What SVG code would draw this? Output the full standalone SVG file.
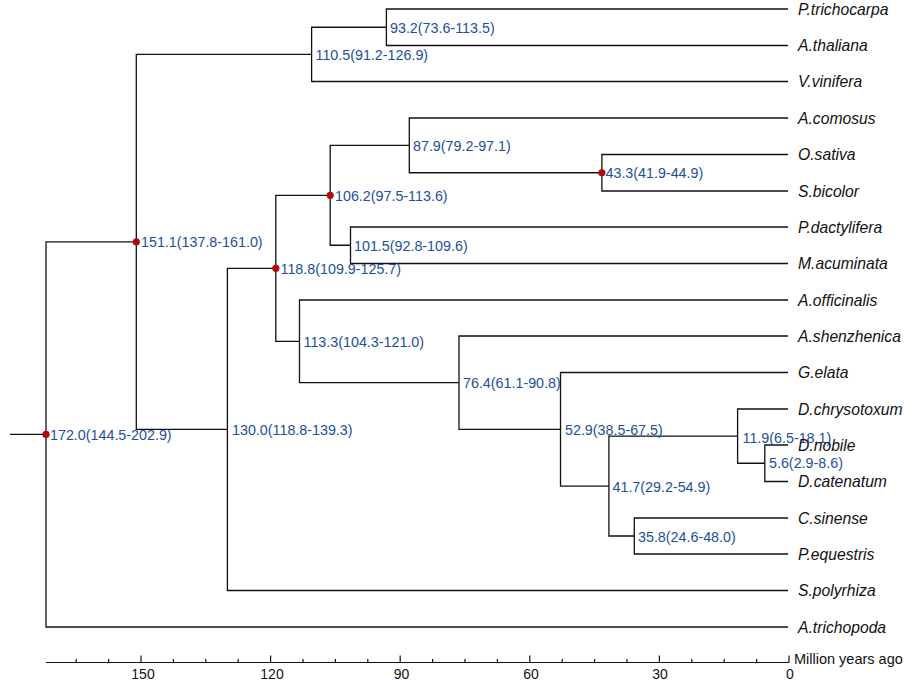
<svg xmlns="http://www.w3.org/2000/svg" width="913" height="681" viewBox="0 0 913 681">
<style>
.br{fill:none;stroke:#111;stroke-width:1.3}
.ax{fill:none;stroke:#111;stroke-width:1.2}
.nl{font-family:"Liberation Sans",Arial,sans-serif;font-size:14.3px;fill:#1d4f9b}
.lf{font-family:"Liberation Sans",Arial,sans-serif;font-size:15.7px;font-style:italic;fill:#111}
.tk{font-family:"Liberation Sans",Arial,sans-serif;font-size:14px;fill:#111;text-anchor:middle}
.dot{fill:#b00a0a}
</style>
<rect width="913" height="681" fill="#fff"/>
<g id="connectors">
<path class="br" d="M10 434.45 H46"/>
<path class="br" d="M136.3 241.9 H46 V627 H788"/>
<path class="br" d="M311.6 54.4 H136.3 V429.4 H227.4"/>
<path class="br" d="M386.4 27.25 H311.6 V81.5 H788"/>
<path class="br" d="M788 9 H386.4 V45.5 H788"/>
<path class="br" d="M275.8 268.3 H227.4 V590.5 H788"/>
<path class="br" d="M330.2 195.3 H275.8 V341.3 H299.5"/>
<path class="br" d="M409.3 145.4 H330.2 V245.25 H350.5"/>
<path class="br" d="M788 118 H409.3 V172.75 H601.9"/>
<path class="br" d="M788 154.5 H601.9 V191 H788"/>
<path class="br" d="M788 227 H350.5 V263.5 H788"/>
<path class="br" d="M788 300 H299.5 V382.65 H459"/>
<path class="br" d="M788 336 H459 V429.3 H560.5"/>
<path class="br" d="M788 372.5 H560.5 V486.05 H608.9"/>
<path class="br" d="M737.6 436.1 H608.9 V536 H634.3"/>
<path class="br" d="M788 409 H737.6 V463.25 H764.8"/>
<path class="br" d="M788 445 H764.8 V481.5 H788"/>
<path class="br" d="M788 518 H634.3 V554 H788"/>
</g>
<g id="node-172"><circle class="dot" cx="46" cy="434.45" r="3.6"/><text class="nl" x="50" y="439.5">172.0(144.5-202.9)</text></g>
<g id="node-151"><circle class="dot" cx="136.3" cy="241.9" r="3.6"/><text class="nl" x="141" y="247">151.1(137.8-161.0)</text></g>
<g id="node-110"><text class="nl" x="315.5" y="59.5">110.5(91.2-126.9)</text></g>
<g id="node-93"><text class="nl" x="390" y="32.5">93.2(73.6-113.5)</text></g>
<g id="node-130"><text class="nl" x="232" y="434.5">130.0(118.8-139.3)</text></g>
<g id="node-118"><circle class="dot" cx="275.8" cy="268.3" r="3.6"/><text class="nl" x="280.5" y="273.5">118.8(109.9-125.7)</text></g>
<g id="node-106"><circle class="dot" cx="330.2" cy="195.3" r="3.6"/><text class="nl" x="335" y="200.5">106.2(97.5-113.6)</text></g>
<g id="node-87"><text class="nl" x="413" y="150.5">87.9(79.2-97.1)</text></g>
<g id="node-43"><circle class="dot" cx="601.9" cy="172.75" r="3.6"/><text class="nl" x="605.5" y="178">43.3(41.9-44.9)</text></g>
<g id="node-101"><text class="nl" x="354" y="250.5">101.5(92.8-109.6)</text></g>
<g id="node-113"><text class="nl" x="303.5" y="346.5">113.3(104.3-121.0)</text></g>
<g id="node-76"><text class="nl" x="463" y="388">76.4(61.1-90.8)</text></g>
<g id="node-52"><text class="nl" x="565" y="434.5">52.9(38.5-67.5)</text></g>
<g id="node-41"><text class="nl" x="612.5" y="491.5">41.7(29.2-54.9)</text></g>
<g id="node-11"><text class="nl" x="742.5" y="443">11.9(6.5-18.1)</text></g>
<g id="node-5"><text class="nl" x="769" y="468">5.6(2.9-8.6)</text></g>
<g id="node-35"><text class="nl" x="638" y="542">35.8(24.6-48.0)</text></g>
<g id="leaf-ptri"><text class="lf" x="798" y="14.5">P.trichocarpa</text></g>
<g id="leaf-atha"><text class="lf" x="798" y="51">A.thaliana</text></g>
<g id="leaf-vvin"><text class="lf" x="798" y="87">V.vinifera</text></g>
<g id="leaf-acom"><text class="lf" x="798" y="123.5">A.comosus</text></g>
<g id="leaf-osat"><text class="lf" x="798" y="160">O.sativa</text></g>
<g id="leaf-sbic"><text class="lf" x="798" y="196.5">S.bicolor</text></g>
<g id="leaf-pdac"><text class="lf" x="798" y="232.5">P.dactylifera</text></g>
<g id="leaf-macu"><text class="lf" x="798" y="269">M.acuminata</text></g>
<g id="leaf-aoff"><text class="lf" x="798" y="305.5">A.officinalis</text></g>
<g id="leaf-ashe"><text class="lf" x="798" y="341.5">A.shenzhenica</text></g>
<g id="leaf-gela"><text class="lf" x="798" y="378">G.elata</text></g>
<g id="leaf-dchr"><text class="lf" x="798" y="414.5">D.chrysotoxum</text></g>
<g id="leaf-dnob"><text class="lf" x="798" y="450.5">D.nobile</text></g>
<g id="leaf-dcat"><text class="lf" x="798" y="487">D.catenatum</text></g>
<g id="leaf-csin"><text class="lf" x="798" y="523.5">C.sinense</text></g>
<g id="leaf-pequ"><text class="lf" x="798" y="559.5">P.equestris</text></g>
<g id="leaf-spol"><text class="lf" x="798" y="596">S.polyrhiza</text></g>
<g id="leaf-atri"><text class="lf" x="798" y="632.5">A.trichopoda</text></g>
<g id="axis">
<path class="ax" d="M46 662.5 H789"/>
<path class="ax" d="M789 662.5 V655.5 M659.4 662.5 V655.5 M529.8 662.5 V655.5 M400.2 662.5 V655.5 M270.6 662.5 V655.5 M141 662.5 V655.5"/>
<path class="ax" d="M756.6 662.5 V659 M724.2 662.5 V659 M691.8 662.5 V659 M627 662.5 V659 M594.6 662.5 V659 M562.2 662.5 V659 M497.4 662.5 V659 M465 662.5 V659 M432.6 662.5 V659 M367.8 662.5 V659 M335.4 662.5 V659 M303 662.5 V659 M238.2 662.5 V659 M205.8 662.5 V659 M173.4 662.5 V659 M108.6 662.5 V659 M76.2 662.5 V659"/>
<text class="tk" x="143" y="678.5">150</text>
<text class="tk" x="272" y="678.5">120</text>
<text class="tk" x="401.5" y="678.5">90</text>
<text class="tk" x="531" y="678.5">60</text>
<text class="tk" x="660" y="678.5">30</text>
<text class="tk" x="790" y="678.5">0</text>
<text x="794" y="664" style="font-family:'Liberation Sans',Arial,sans-serif;font-size:14.5px;fill:#111">Million years ago</text>
</g>
</svg>
